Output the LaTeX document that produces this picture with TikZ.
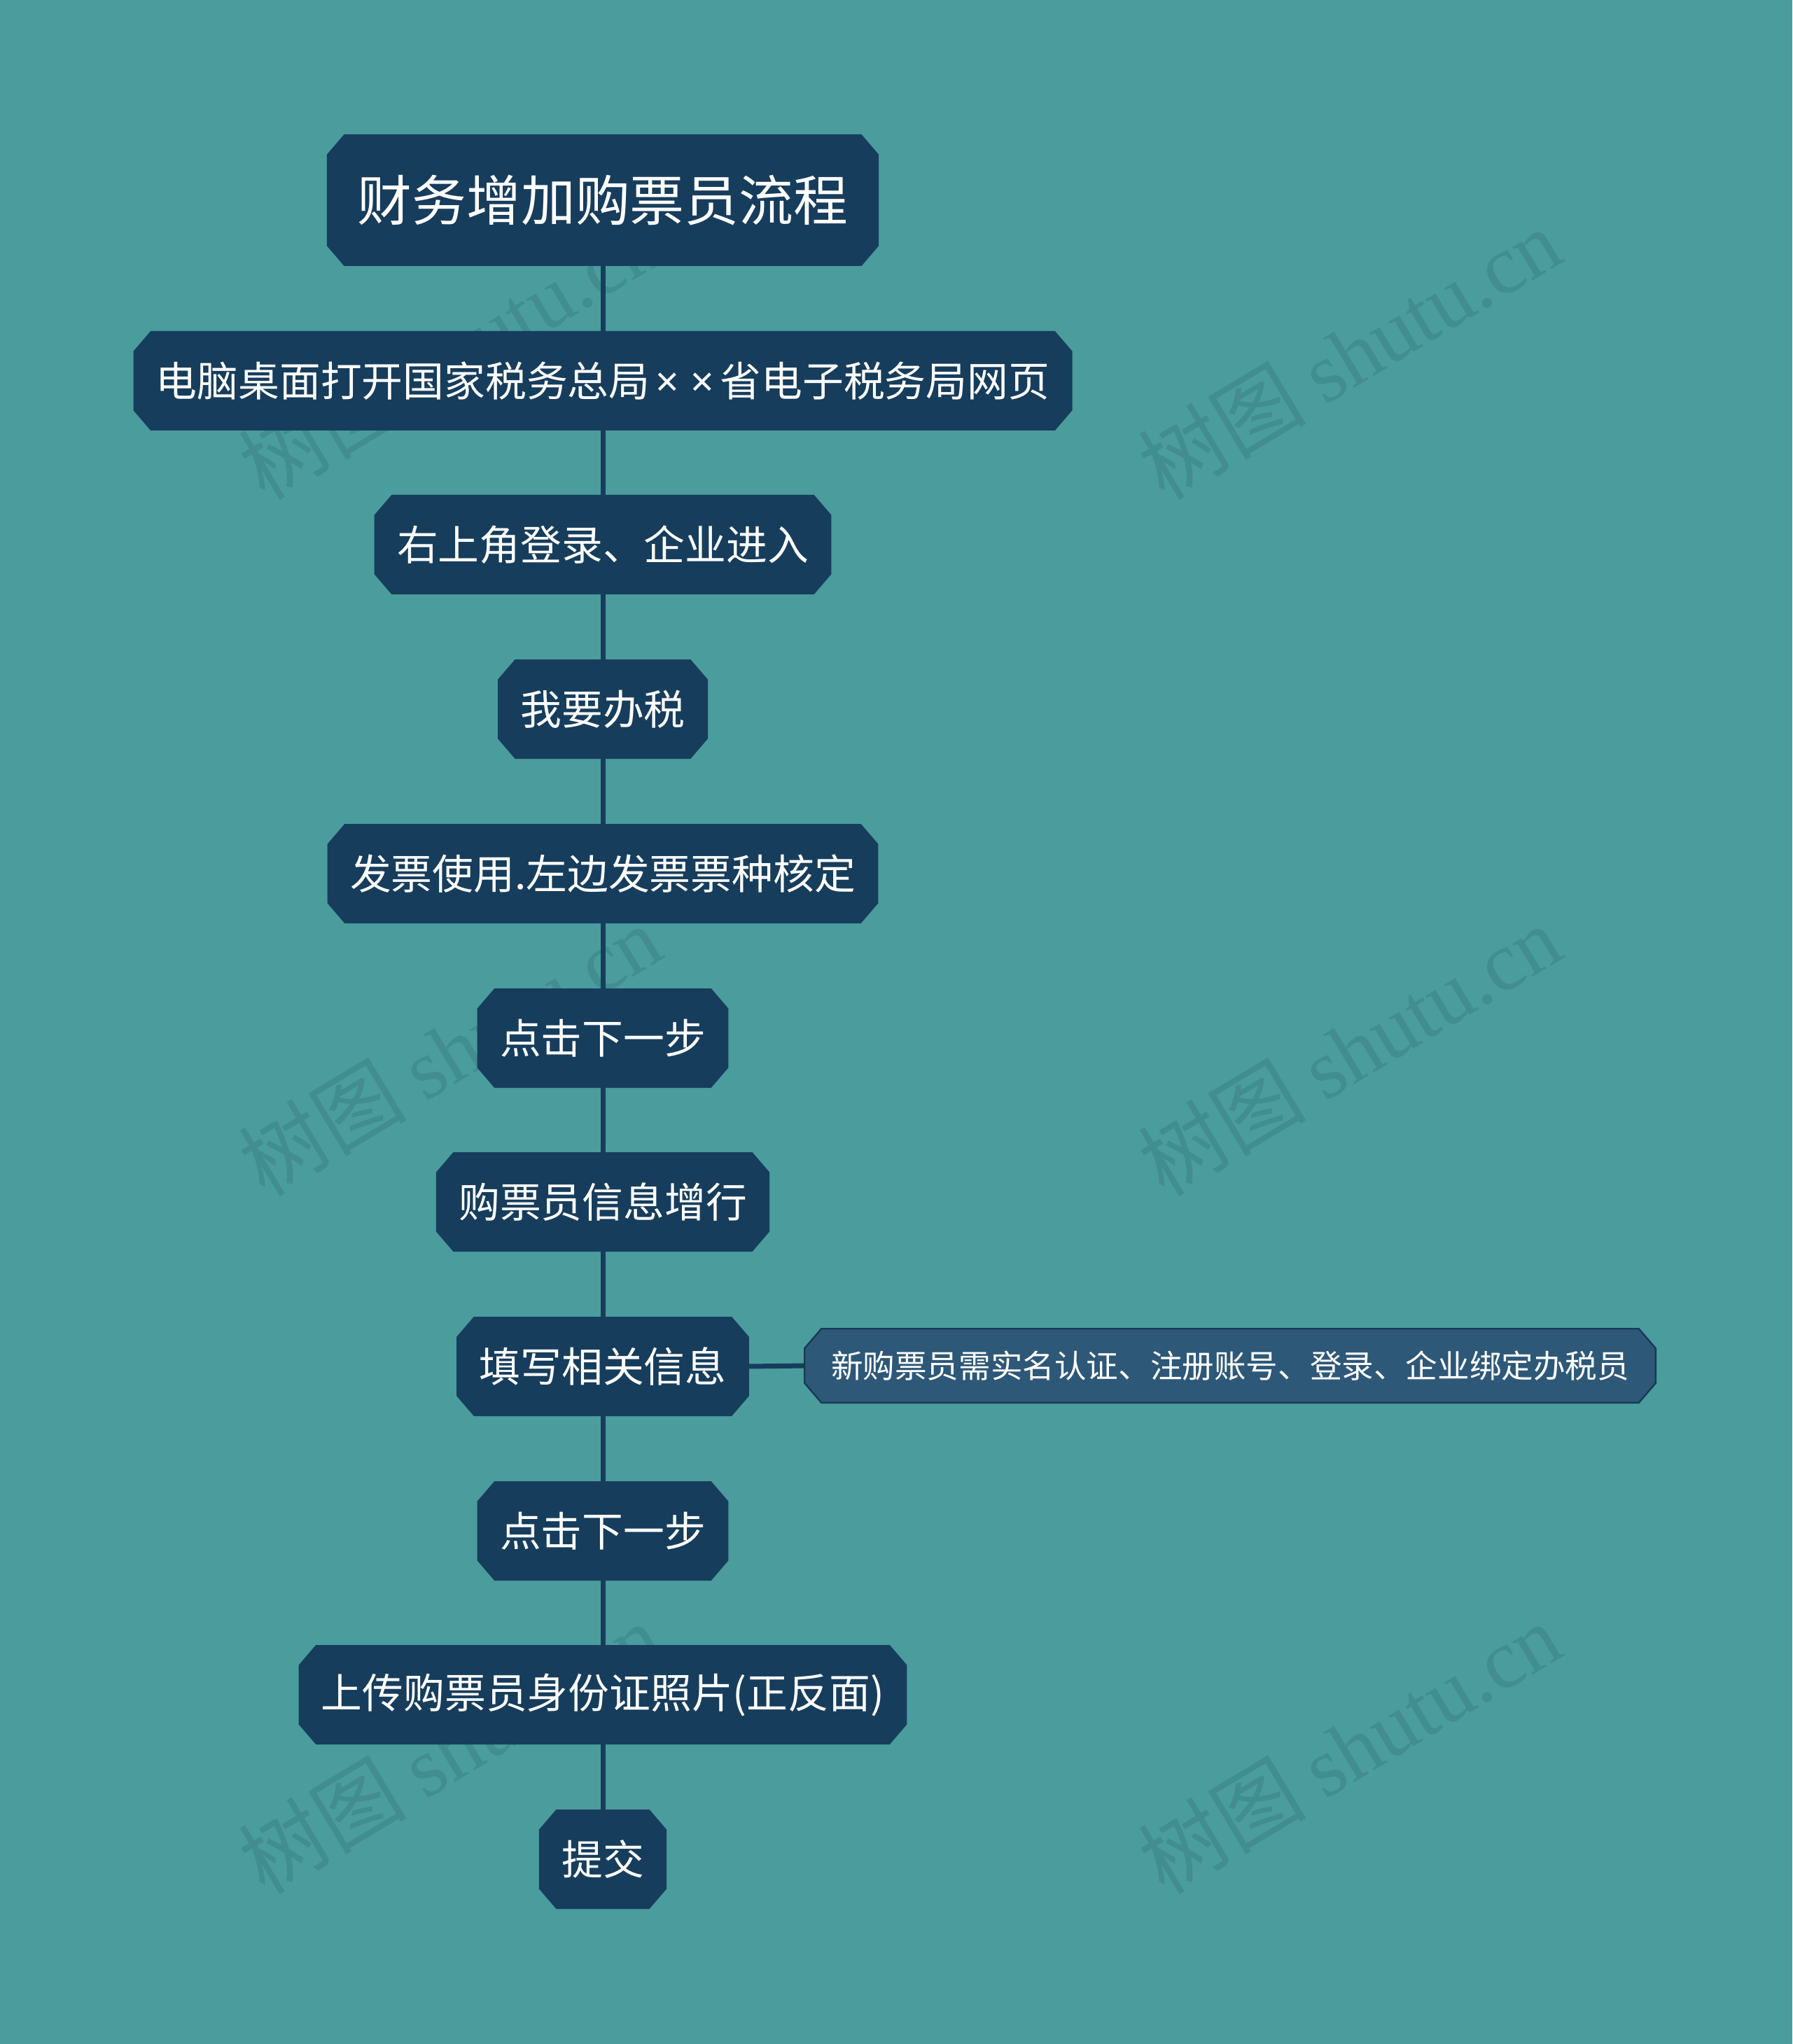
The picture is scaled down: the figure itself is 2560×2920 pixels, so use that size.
\documentclass[tikz,border=0pt]{standalone}
\usepackage{fontspec}
\setmainfont{Noto Sans CJK SC}
\newfontfamily\wmlatin{Liberation Serif}
\newfontfamily\wmcjk{Noto Sans CJK SC}
\newfontfamily\latinsans{Noto Sans}
\pgfdeclarelayer{wm}
\pgfdeclarelayer{bg}
\pgfsetlayers{wm,bg,main}
\definecolor{bgc}{RGB}{75,156,156}
\definecolor{nodec}{RGB}{23,61,92}
\definecolor{sidec}{RGB}{46,88,120}
\definecolor{sideb}{RGB}{22,58,86}
\definecolor{wmc}{RGB}{65,141,144}
\tikzset{
  stepnode/.style={inner xsep=7.6pt, inner ysep=0pt, minimum height=34.5pt, text=white,
    font=\fontsize{14.7pt}{16pt}\selectfont},
  rootnode/.style={inner xsep=10.5pt, inner ysep=0pt, minimum height=46pt, text=white,
    font=\fontsize{19.45pt}{22pt}\selectfont},
  sidenode/.style={inner xsep=9.25pt, inner ysep=0pt, minimum height=26pt, text=white,
    font=\fontsize{11.4pt}{13pt}\selectfont},
  link/.style={draw=nodec, line width=1.75pt},
  wmark/.style={text=wmc, rotate=31, inner sep=0pt}
}
\newcommand\octa[3]{%
  \path[fill=#2,draw=#3,line width=0.6pt]
    ([xshift=6pt]#1.north west) -- ([xshift=-6pt]#1.north east) --
    ([yshift=-7pt]#1.north east) -- ([yshift=7pt]#1.south east) --
    ([xshift=-6pt]#1.south east) -- ([xshift=6pt]#1.south west) --
    ([yshift=7pt]#1.south west) -- ([yshift=-7pt]#1.north west) -- cycle;}
\newcommand\wmtext{{\wmcjk 树图} {\wmlatin shutu.cn}}
\newcommand\smalltimes{\hspace{0.14em}{\latinsans ×}\hspace{0.14em}}
\begin{document}
\begin{tikzpicture}[x=0.25pt,y=-0.25pt]
\useasboundingbox (0,0) rectangle (2560,2920);
\begin{pgfonlayer}{wm}
  \fill[bgc] (0,0) rectangle (2560,2920);
  \foreach \wx/\wy [count=\i] in {642/505, 1927/505, 642/1500, 1927/1500, 642/2497, 1927/2497}
    \node[wmark, font=\fontsize{30pt}{33pt}\selectfont] (wm\i) at (\wx,\wy) {\wmtext};
\end{pgfonlayer}

\node[rootnode] (root) at (861,286) {财务增加购票员流程};
\node[stepnode] (n1) at (861,544) {电脑桌面打开国家税务总局\smalltimes\smalltimes 省电子税务局网页};
\node[stepnode] (n2) at (861,778) {右上角登录、企业进入};
\node[stepnode] (n3) at (861,1013) {我要办税};
\node[stepnode] (n4) at (861,1248) {发票使用.左边发票票种核定};
\node[stepnode] (n5) at (861,1483) {点击下一步};
\node[stepnode] (n6) at (861,1717) {购票员信息增行};
\node[stepnode] (n7) at (861,1952) {填写相关信息};
\node[stepnode] (n8) at (861,2187) {点击下一步};
\node[stepnode] (n9) at (861,2421) {上传购票员身份证照片(正反面)};
\node[stepnode] (n10) at (861,2656) {提交};
\node[sidenode] (s1) at (1757,1951) {新购票员需实名认证、注册账号、登录、企业绑定办税员};

\begin{pgfonlayer}{bg}
  \draw[link] (root.south) -- (n1.north);
  \draw[link] (n1.south) -- (n2.north);
  \draw[link] (n2.south) -- (n3.north);
  \draw[link] (n3.south) -- (n4.north);
  \draw[link] (n4.south) -- (n5.north);
  \draw[link] (n5.south) -- (n6.north);
  \draw[link] (n6.south) -- (n7.north);
  \draw[link] (n7.south) -- (n8.north);
  \draw[link] (n8.south) -- (n9.north);
  \draw[link] (n9.south) -- (n10.north);
  \draw[link] (n7.east) -- (s1.west);
  \foreach \n in {root,n1,n2,n3,n4,n5,n6,n7,n8,n9,n10}
    \octa{\n}{nodec}{nodec};
  \octa{s1}{sidec}{sideb};
\end{pgfonlayer}
\end{tikzpicture}
\end{document}
